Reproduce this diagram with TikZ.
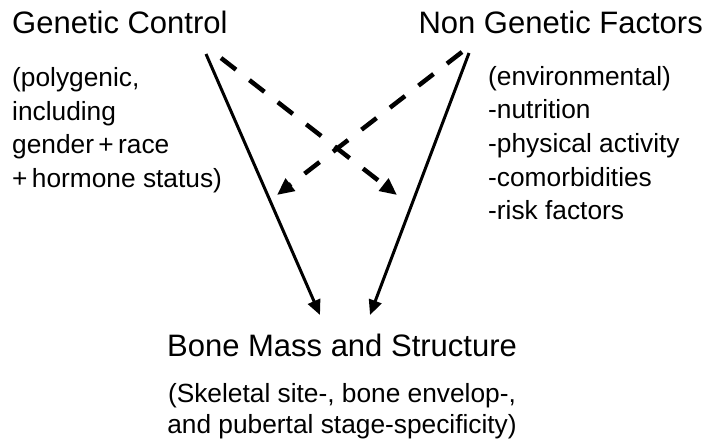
\documentclass[tikz,border=0pt]{standalone}
\usepackage{fontspec}
\setmainfont{Liberation Sans}
\usetikzlibrary{positioning,arrows.meta}
\tikzset{
  title/.style ={inner sep=0pt,font=\fontsize{31}{36}\selectfont},
  note/.style  ={inner sep=0pt,align=left,font=\fontsize{26.3}{33.6}\selectfont},
  arr/.style   ={-{Triangle[length=15pt,width=13pt]},line width=3pt,draw=black},
  darr/.style  ={arr,line width=4.5pt,dash pattern=on 19pt off 17pt,
                 -{Triangle[length=17pt,width=15pt]}},
}

\begin{document}
\begin{tikzpicture}[x=1pt,y=-1pt]
  \useasboundingbox (0,0) rectangle (710,439);
  \node[title, anchor=base west] (gen) at (12,34) {Genetic Control};
  \node[title, anchor=base east] (nongen) at (703,34) {Non Genetic Factors};
  \node[note, below=33pt of gen.south west, anchor=north west] (gennote)
    {(polygenic,\\including\\gender\,+\,race\\+\,hormone status)};
  \node[note, anchor=north west] (nonnote) at (488,66)
    {(environmental)\\-nutrition\\-physical activity\\-comorbidities\\-risk factors};
  \node[title, anchor=base] (bone) at (342,356) {Bone Mass and Structure};
  \node[note, align=center, font=\fontsize{26.3}{30.5}\selectfont,
        below=27pt of bone] (bonenote)
    {(Skeletal site-, bone envelop-,\\and pubertal stage-specificity)};

  % arrow ends
  \coordinate (gs) at (206,54);
  \coordinate (gd) at (221,58);
  \coordinate (ns) at (469,53);
  \coordinate (nd) at (462,52);
  \coordinate (bl) at (320,315);
  \coordinate (br) at (370,315);
  \coordinate (dl) at (277,195);
  \coordinate (dr) at (397,195);

  \draw[arr] (gs) -- (bl);
  \draw[arr] (ns) -- (br);
  \draw[darr] (gd) -- (dr);
  \draw[darr] (nd) -- (dl);
\end{tikzpicture}
\end{document}
